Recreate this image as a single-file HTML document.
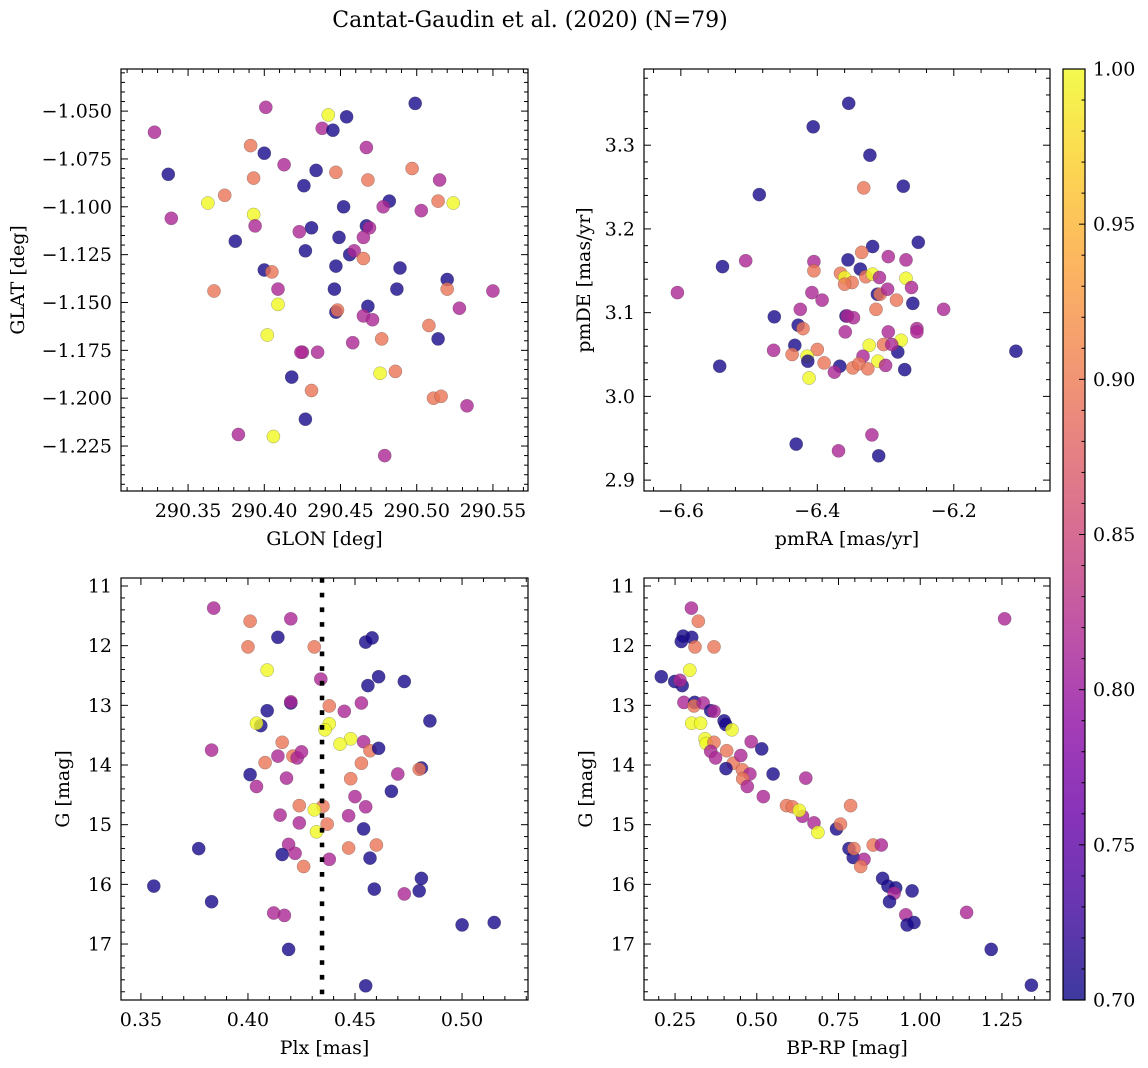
<!DOCTYPE html>
<html><head><meta charset="utf-8"><style>
html,body{margin:0;padding:0;background:#fff;}
svg{display:block;font-family:"DejaVu Serif","Liberation Serif",serif;}
</style></head><body>
<svg id="fig" width="1148" height="1068" viewBox="0 0 1148 1068" xmlns="http://www.w3.org/2000/svg">
<text x="530" y="27" font-size="22" text-anchor="middle">Cantat-Gaudin et al. (2020) (N=79)</text>
</svg>
<script>
// ---- data (B=0.705 dark, P=0.815 purple, S=0.895 salmon, Y=1.0 yellow) ----
const glon=[290.328,290.401,290.442,290.454,290.499,290.438,290.445,290.391,290.400,290.467,290.413,290.337,290.434,290.447,290.393,290.468,290.497,290.515,290.426,290.374,290.363,290.482,290.514,290.524,290.339,290.393,290.452,290.478,290.503,290.394,290.431,290.423,290.467,290.469,290.381,290.449,290.465,290.427,290.456,290.459,290.465,290.447,290.489,290.400,290.405,290.520,290.367,290.409,290.446,290.487,290.520,290.550,290.409,290.447,290.448,290.468,290.528,290.465,290.471,290.508,290.402,290.477,290.514,290.458,290.425,290.424,290.435,290.418,290.476,290.486,290.431,290.511,290.516,290.533,290.427,290.383,290.406,290.479];
const glat=[-1.061,-1.048,-1.052,-1.053,-1.046,-1.059,-1.060,-1.068,-1.072,-1.069,-1.078,-1.083,-1.081,-1.082,-1.085,-1.086,-1.080,-1.086,-1.089,-1.094,-1.098,-1.097,-1.097,-1.098,-1.106,-1.104,-1.100,-1.100,-1.102,-1.110,-1.111,-1.113,-1.110,-1.111,-1.118,-1.116,-1.116,-1.123,-1.125,-1.123,-1.127,-1.131,-1.132,-1.133,-1.134,-1.138,-1.144,-1.143,-1.143,-1.143,-1.143,-1.144,-1.151,-1.155,-1.154,-1.152,-1.153,-1.157,-1.159,-1.162,-1.167,-1.169,-1.169,-1.171,-1.176,-1.176,-1.176,-1.189,-1.187,-1.186,-1.196,-1.200,-1.199,-1.204,-1.211,-1.219,-1.220,-1.230];
const probPos=[0.815,0.815,1.0,0.705,0.705,0.815,0.705,0.895,0.705,0.815,0.815,0.705,0.705,0.895,0.895,0.895,0.895,0.815,0.705,0.895,1.0,0.705,0.895,1.0,0.815,1.0,0.705,0.815,0.815,0.815,0.705,0.815,0.705,0.815,0.705,0.705,0.815,0.705,0.705,0.815,0.895,0.705,0.705,0.705,0.895,0.705,0.895,0.815,0.705,0.705,0.895,0.815,1.0,0.705,0.895,0.705,0.815,0.815,0.815,0.895,1.0,0.895,0.705,0.815,0.815,0.815,0.815,0.705,1.0,0.895,0.895,0.895,0.895,0.815,0.705,0.815,1.0,0.815];

const pmra=[-6.354,-6.406,-6.323,-6.332,-6.274,-6.485,-6.252,-6.319,-6.335,-6.296,-6.270,-6.539,-6.505,-6.405,-6.355,-6.337,-6.405,-6.366,-6.360,-6.349,-6.360,-6.329,-6.319,-6.309,-6.270,-6.605,-6.408,-6.312,-6.308,-6.297,-6.262,-6.393,-6.284,-6.260,-6.314,-6.215,-6.425,-6.463,-6.358,-6.347,-6.356,-6.428,-6.421,-6.359,-6.296,-6.254,-6.254,-6.464,-6.433,-6.437,-6.400,-6.415,-6.414,-6.324,-6.303,-6.277,-6.282,-6.291,-6.109,-6.333,-6.311,-6.543,-6.390,-6.367,-6.348,-6.339,-6.326,-6.300,-6.272,-6.375,-6.412,-6.320,-6.431,-6.369,-6.310];
const pmde=[3.350,3.322,3.288,3.249,3.251,3.241,3.184,3.179,3.172,3.167,3.163,3.155,3.162,3.161,3.163,3.152,3.150,3.147,3.142,3.136,3.134,3.143,3.146,3.142,3.141,3.124,3.124,3.122,3.122,3.128,3.130,3.115,3.115,3.111,3.104,3.104,3.104,3.095,3.096,3.094,3.096,3.085,3.081,3.077,3.077,3.081,3.077,3.055,3.061,3.050,3.056,3.048,3.042,3.061,3.062,3.067,3.053,3.062,3.054,3.048,3.042,3.036,3.040,3.036,3.034,3.039,3.033,3.037,3.032,3.029,3.022,2.954,2.943,2.935,2.929];
const probPm=[0.705,0.705,0.705,0.895,0.705,0.705,0.705,0.705,0.895,0.815,0.815,0.705,0.815,0.815,0.705,0.705,0.895,0.895,1.0,0.895,0.895,0.895,1.0,0.815,1.0,0.815,0.815,0.705,0.895,0.815,0.815,0.815,0.895,0.705,0.895,0.815,0.815,0.705,0.705,0.815,0.815,0.705,0.895,0.815,0.815,0.815,0.815,0.815,0.705,0.895,0.895,1.0,0.705,1.0,0.895,1.0,0.705,0.815,0.705,0.815,1.0,0.705,0.895,0.705,0.895,0.895,0.895,0.815,0.705,0.815,1.0,0.815,0.705,0.815,0.705];

const plx=[0.384,0.401,0.420,0.414,0.400,0.431,0.455,0.458,0.409,0.434,0.461,0.473,0.456,0.420,0.420,0.438,0.453,0.445,0.409,0.406,0.404,0.438,0.436,0.485,0.383,0.416,0.414,0.421,0.423,0.425,0.408,0.448,0.443,0.454,0.457,0.461,0.453,0.401,0.404,0.418,0.448,0.470,0.481,0.480,0.467,0.450,0.455,0.424,0.435,0.431,0.415,0.447,0.424,0.437,0.432,0.454,0.377,0.419,0.416,0.422,0.447,0.460,0.438,0.457,0.426,0.356,0.383,0.459,0.473,0.480,0.481,0.412,0.417,0.500,0.515,0.419,0.455];
const gPlx=[11.37,11.59,11.55,11.86,12.02,12.02,11.94,11.87,12.41,12.56,12.52,12.60,12.67,12.96,12.94,13.01,12.96,13.10,13.09,13.34,13.30,13.31,13.41,13.26,13.75,13.62,13.85,13.85,13.88,13.78,13.96,13.56,13.65,13.61,13.76,13.72,13.97,14.16,14.36,14.22,14.23,14.15,14.05,14.07,14.44,14.53,14.70,14.68,14.69,14.75,14.84,14.85,14.97,14.99,15.12,15.07,15.40,15.33,15.50,15.48,15.39,15.34,15.58,15.56,15.70,16.03,16.29,16.08,16.16,16.11,15.90,16.48,16.52,16.68,16.64,17.09,17.70];
const probPlx=[0.815,0.895,0.815,0.705,0.895,0.895,0.705,0.705,1.0,0.815,0.705,0.705,0.705,0.705,0.815,0.895,0.815,0.815,0.705,0.705,1.0,1.0,1.0,0.705,0.815,0.895,0.815,0.895,0.815,0.815,0.895,1.0,1.0,0.815,0.895,0.705,0.895,0.705,0.815,0.815,0.895,0.815,0.705,0.895,0.705,0.815,0.815,0.895,0.895,1.0,0.815,0.815,0.815,0.895,1.0,0.705,0.705,0.815,0.705,0.815,0.895,0.895,0.815,0.705,0.895,0.705,0.705,0.705,0.815,0.705,0.705,0.815,0.815,0.705,0.705,0.705,0.705];
const plxRef=[0.4346];

const bprp=[0.300,0.321,1.258,0.275,0.269,0.301,0.311,0.369,0.295,0.208,0.249,0.272,0.265,0.277,0.310,0.308,0.336,0.359,0.369,0.400,0.405,0.424,0.301,0.328,0.342,0.345,0.369,0.483,0.515,0.359,0.374,0.408,0.428,0.451,0.406,0.456,0.479,0.457,0.471,0.550,0.650,0.520,0.591,0.609,0.640,0.630,0.675,0.687,0.744,0.756,0.787,0.856,0.881,0.782,0.795,0.797,0.828,0.818,0.885,0.901,0.925,0.920,0.906,0.975,0.956,0.960,0.981,1.142,1.217,1.340];
const gCmd=[11.37,11.59,11.55,11.84,11.93,11.86,12.02,12.02,12.41,12.52,12.60,12.67,12.58,12.95,12.95,13.01,12.96,13.09,13.10,13.26,13.32,13.41,13.30,13.30,13.56,13.64,13.62,13.61,13.73,13.77,13.88,13.76,13.97,13.84,14.06,14.08,14.15,14.23,14.36,14.15,14.22,14.53,14.68,14.70,14.86,14.76,14.97,15.13,15.07,14.99,14.68,15.34,15.34,15.40,15.55,15.40,15.58,15.70,15.90,16.03,16.06,16.15,16.29,16.11,16.51,16.68,16.64,16.47,17.09,17.69];
const probCmd=[0.815,0.895,0.815,0.705,0.705,0.705,0.895,0.895,1.0,0.705,0.705,0.705,0.815,0.815,0.705,0.895,0.815,0.705,0.815,0.705,0.705,1.0,1.0,1.0,1.0,1.0,0.895,0.815,0.705,0.815,0.815,0.895,0.895,0.815,0.705,0.895,0.815,0.895,0.815,0.705,0.815,0.815,0.895,0.895,0.815,1.0,0.815,1.0,0.705,0.895,0.895,0.895,0.815,0.705,0.705,0.895,0.815,0.895,0.705,0.705,0.705,0.815,0.705,0.705,0.815,0.705,0.705,0.815,0.705,0.705];

const cbTicks=[0.70,0.75,0.80,0.85,0.90,0.95,1.00];

// ---- helpers ----
const NS="http://www.w3.org/2000/svg";
const svg=document.getElementById('fig');
const FS=19;
function mk(tag,attrs,parent){const e=document.createElementNS(NS,tag);for(const k in attrs)e.setAttribute(k,attrs[k]);(parent||svg).appendChild(e);return e;}
const plasma=[[13,8,135],[65,4,157],[106,0,168],[143,13,164],[177,42,144],[204,71,120],[225,100,98],[242,132,75],[252,166,54],[252,206,37],[240,249,33]];
function cmap(p){let t=(p-0.70)/0.30;t=Math.max(0,Math.min(1,t))*10;const i=Math.min(9,Math.floor(t)),f=t-i;const a=plasma[i],b=plasma[i+1];return `rgb(${Math.round(a[0]+(b[0]-a[0])*f)},${Math.round(a[1]+(b[1]-a[1])*f)},${Math.round(a[2]+(b[2]-a[2])*f)})`;}
function fmt(v,d){return (v<0?'\u2212':'')+Math.abs(v).toFixed(d);}

function panel(o){
  const g=mk('g',{});
  
  
  const X=v=>o.L+(v-o.x0)/(o.x1-o.x0)*(o.R-o.L);
  const Y=o.inv?(v=>o.T+(v-o.y0)/(o.y1-o.y0)*(o.B-o.T)):(v=>o.B-(v-o.y0)/(o.y1-o.y0)*(o.B-o.T));
  for(let i=0;i<o.xs.length;i++){
    const c=mk('circle',{cx:X(o.xs[i]).toFixed(1),cy:Y(o.ys[i]).toFixed(1),r:6.6,fill:cmap(o.ps[i]),'fill-opacity':0.8,stroke:'rgba(60,60,60,0.45)','stroke-width':0.5},g);
    
    
  }
  if(o.vline){for(const v of o.vline){const l=mk('line',{x1:X(v),x2:X(v),y1:o.T,y2:o.B,stroke:'#000','stroke-width':4.5,'stroke-dasharray':'4.7 10'},g);
    
    }}
  const fr=mk('rect',{x:o.L,y:o.T,width:o.R-o.L,height:o.B-o.T,fill:'none',stroke:'#000','stroke-width':1.2},g);
  
  
  const sx=o.xmaj/5;
  for(let k=Math.ceil(o.x0/sx-1e-6);k*sx<=o.x1+1e-9;k++){
    const v=k*sx,px=X(v),maj=Math.abs(Math.round(k/5)*5-k)<1e-6,len=maj?7:4;
    mk('line',{x1:px,x2:px,y1:o.B,y2:o.B-len,stroke:'#000','stroke-width':1},g);
    mk('line',{x1:px,x2:px,y1:o.T,y2:o.T+len,stroke:'#000','stroke-width':1},g);
    if(maj){const t=mk('text',{x:px,y:o.B+26,'font-size':FS,'text-anchor':'middle'},g);t.textContent=fmt(v,o.xd);
      
      }
  }
  const sy=o.ymaj/5;
  for(let k=Math.ceil(o.y0/sy-1e-6);k*sy<=o.y1+1e-9;k++){
    const v=k*sy,py=Y(v),maj=Math.abs(Math.round(k/5)*5-k)<1e-6,len=maj?7:4;
    mk('line',{x1:o.L,x2:o.L+len,y1:py,y2:py,stroke:'#000','stroke-width':1},g);
    mk('line',{x1:o.R,x2:o.R-len,y1:py,y2:py,stroke:'#000','stroke-width':1},g);
    if(maj){const t=mk('text',{x:o.L-9,y:py+6.5,'font-size':FS,'text-anchor':'end'},g);t.textContent=fmt(v,o.yd);
      
      }
  }
  const xl=mk('text',{x:(o.L+o.R)/2,y:o.B+54,'font-size':FS,'text-anchor':'middle'},g);xl.textContent=o.xlab;
  
  
  const yl=mk('text',{x:0,y:0,'font-size':FS,'text-anchor':'middle',transform:`translate(${o.ylx},${(o.T+o.B)/2}) rotate(-90)`},g);yl.textContent=o.ylab;
  
  
}

panel({name:'glon-glat-panel',L:121,R:528,T:69,B:491,x0:290.306,x1:290.573,y0:-1.2485,y1:-1.028,xmaj:0.05,ymaj:0.025,xd:2,yd:3,xs:glon,ys:glat,ps:probPos,xlab:'GLON [deg]',ylab:'GLAT [deg]',ylx:24});
panel({name:'proper-motion-panel',L:644,R:1050,T:69,B:491,x0:-6.654,x1:-6.059,y0:2.887,y1:3.391,xmaj:0.2,ymaj:0.1,xd:1,yd:1,xs:pmra,ys:pmde,ps:probPm,xlab:'pmRA [mas/yr]',ylab:'pmDE [mas/yr]',ylx:590});
panel({name:'parallax-mag-panel',L:121,R:528,T:578,B:1000,x0:0.3407,x1:0.5308,y0:10.866,y1:17.938,inv:true,xmaj:0.05,ymaj:1,xd:2,yd:0,xs:plx,ys:gPlx,ps:probPlx,vline:plxRef,xlab:'Plx [mas]',ylab:'G [mag]',ylx:69});
panel({name:'cmd-panel',L:644,R:1050,T:578,B:1000,x0:0.155,x1:1.397,y0:10.866,y1:17.938,inv:true,xmaj:0.25,ymaj:1,xd:2,yd:0,xs:bprp,ys:gCmd,ps:probCmd,xlab:'BP-RP [mag]',ylab:'G [mag]',ylx:592});

(function(){
  const cb=mk('g',{});
  
  
  const L=1063,R=1085,T=69,B=1000;
  const defs=mk('defs',{},cb);
  const lg=mk('linearGradient',{id:'cbg',x1:0,y1:1,x2:0,y2:0},defs);
  for(let i=0;i<=20;i++){const p=0.70+0.30*i/20;mk('stop',{offset:i/20,'stop-color':cmap(p),'stop-opacity':0.8},lg);}
  mk('rect',{x:L,y:T,width:R-L,height:B-T,fill:'url(#cbg)',stroke:'#000','stroke-width':1.2},cb);
  const Y=v=>B-(v-0.70)/0.30*(B-T);
  for(let k=70;k<=100;k++){const v=k/100,py=Y(v),maj=k%5===0;
    mk('line',{x1:R,x2:R-(maj?6:3.5),y1:py,y2:py,stroke:'#000','stroke-width':1},cb);}
  for(const v of cbTicks){const t=mk('text',{x:R+8,y:Y(v)+6.5,'font-size':FS},cb);t.textContent=v.toFixed(2);
    
    }
})();
</script>
</body></html>
